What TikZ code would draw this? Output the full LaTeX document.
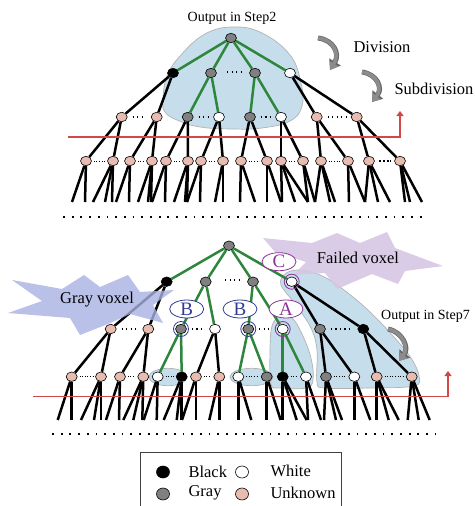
\documentclass[tikz,border=0pt]{standalone}
\usepackage{fontspec}
\setmainfont{Liberation Serif}
\usetikzlibrary{shapes.geometric,arrows.meta}
\pgfdeclarelayer{blobs}
\pgfdeclarelayer{edges}
\pgfdeclarelayer{clouds}
\pgfsetlayers{blobs,edges,clouds,main}
\definecolor{unk}{RGB}{232,188,176}
\definecolor{gnode}{RGB}{128,128,128}
\definecolor{egreen}{RGB}{46,134,60}
\definecolor{blobc}{RGB}{198,222,236}
\definecolor{redl}{RGB}{208,72,72}
\definecolor{grayvox}{RGB}{168,178,226}
\definecolor{failvox}{RGB}{214,198,228}
\definecolor{ringblue}{RGB}{50,60,150}
\definecolor{ringpurp}{RGB}{140,50,150}
\definecolor{arrgray}{RGB}{140,140,140}
\tikzset{
  vtx/.style={ellipse, draw=black, line width=0.6pt, minimum width=11pt, minimum height=9.5pt, inner sep=0pt},
  ebk/.style={line width=2.5pt, black},
  egr/.style={line width=2.5pt, egreen},
  pairdots/.style={line width=0.8pt, dash pattern=on 0.8pt off 1.8pt},
  tridots/.style={line width=1.2pt, dash pattern=on 1.2pt off 3.3pt},
  rowdots/.style={line width=1.8pt, dash pattern=on 1.8pt off 6.9pt},
  blob/.style={fill=blobc, draw=black!30, line width=0.7pt},
  redline/.style={redl, line width=1.5pt, -{Triangle[width=7pt,length=5pt]}},
  lbl/.style={ellipse, fill=white, line width=0.8pt, minimum width=34pt, minimum height=18pt, inner sep=0pt, font=\fontsize{19}{19}\selectfont},
  ring/.style={circle, line width=0.8pt, minimum size=15pt, inner sep=0pt},
  bigtxt/.style={font=\fontsize{16.5}{18}\selectfont},
  smalltxt/.style={font=\fontsize{14}{16}\selectfont},
  legv/.style={ellipse, draw=black, line width=0.6pt, minimum width=13pt, minimum height=12pt, inner sep=0pt},
  arrout/.style={line width=5pt, black!60, -{Triangle[width=13pt,length=9.5pt]}},
  arrin/.style={line width=3.6pt, arrgray, -{Triangle[width=10pt,length=7.5pt]}},
  cloudgray/.style={fill=grayvox, fill opacity=0.8, draw=none},
  cloudfail/.style={fill=failvox, fill opacity=0.9, draw=none}
}
\begin{document}
\begin{tikzpicture}[x=1pt,y=-1pt]
\useasboundingbox (0,0) rectangle (474,506);

% ================= TOP TREE =================
\node[vtx, fill=gnode] (tr) at (231,38) {};
\node[vtx, fill=black] (t1a) at (173,73) {};
\node[vtx, fill=gnode] (t1b) at (211,73) {};
\node[vtx, fill=gnode] (t1c) at (255,73) {};
\node[vtx, fill=white] (t1d) at (290,73) {};
\foreach \i/\x/\c in {1/121.7/unk, 2/156.7/unk, 3/187.7/gnode, 4/219/white, 5/250/gnode, 6/281/white, 7/316.7/unk, 8/356.7/unk}
  \node[vtx, fill=\c] (t2-\i) at (\x,117) {};
\foreach \i/\x in {1/86, 2/113, 3/130, 4/152, 5/166, 6/188, 7/201, 8/223, 9/241, 10/267, 11/281, 12/303, 13/321, 14/348, 15/369, 16/400}
  \node[vtx, fill=unk] (t3-\i) at (\x,161) {};

\begin{pgfonlayer}{blobs}
  \draw[blob] plot[smooth cycle, tension=0.7] coordinates {(163,100) (167,76) (181,55) (205,34) (233,27) (262,33) (290,55) (301,83) (302,106) (290,121) (262,128) (233,129) (200,127) (177,120) (165,112)};
\end{pgfonlayer}

\begin{pgfonlayer}{edges}
  \foreach \n in {t1a,t1b,t1c,t1d} \draw[egr] (tr) -- (\n);
  \draw[ebk] (t1a) -- (t2-1); \draw[ebk] (t1a) -- (t2-2);
  \draw[egr] (t1b) -- (t2-3); \draw[egr] (t1b) -- (t2-4);
  \draw[egr] (t1c) -- (t2-5); \draw[egr] (t1c) -- (t2-6);
  \draw[ebk] (t1d) -- (t2-7); \draw[ebk] (t1d) -- (t2-8);
  \foreach \i [evaluate=\i as \a using int(2*\i-1), evaluate=\i as \b using int(2*\i)] in {1,...,8} {
    \draw[ebk] (t2-\i) -- (t3-\a);
    \draw[ebk] (t2-\i) -- (t3-\b);
  }
  \foreach \i/\x/\offs in {1/86/{-14,-1}, 2/113/{-20,-8,-1}, 3/130/{-14,-1}, 4/152/{-14,-4,-1}, 5/166/{-14,-1}, 6/188/{-14,-3,-1}, 7/201/{-14,-1}, 8/223/{-8,0},
                           9/241/{-1,14}, 10/267/{0,14}, 11/281/{1,14,27}, 12/303/{5,12}, 13/321/{-6,9,14}, 14/348/{1,17}, 15/369/{-4,9,21}, 16/400/{5,10,22}} {
    \foreach \o [count=\k] in \offs {
      \coordinate (tl-\i-\k) at (\x+\o,202);
      \draw[ebk] (t3-\i) -- (tl-\i-\k);
    }
  }
\end{pgfonlayer}

% dots between siblings (top)
\coordinate (td0a) at (227,72); \coordinate (td0b) at (241,72);
\draw[tridots] (td0a) -- (td0b);
\foreach \a/\b in {1/2,3/4,5/6,7/8} \draw[tridots, shorten >=5pt, shorten <=5pt] (t2-\a) -- (t2-\b);
\foreach \a/\b in {1/2,3/4,5/6,7/8,9/10,11/12,13/14} \draw[pairdots, shorten >=2pt, shorten <=2pt] (t3-\a) -- (t3-\b);
\draw[line width=2pt, dash pattern=on 2pt off 1.6pt, shorten >=3.5pt, shorten <=4.5pt] (t3-15) -- (t3-16);
\coordinate (trow1) at (63,217); \coordinate (trow2) at (426,217);
\draw[rowdots] (trow1) -- (trow2);

% red line top
\coordinate (tra) at (68,137); \coordinate (trb) at (400,137); \coordinate (trc) at (400,111);
\draw[redline] (tra) -- (trb) -- (trc);

\node[smalltxt] (out2) at (232,18) {Output in Step2};
\node[bigtxt, anchor=west] (divt) at (350,47) {Division};
\node[bigtxt, anchor=west] (subt) at (391,89) {Subdivision};
% curved arrows
\coordinate (da1) at (318,38); \coordinate (da2) at (330,70);
\draw[arrout] (da1) .. controls (334,40) and (340,54) .. (da2);
\draw[arrin] (da1) .. controls (334,40) and (340,54) .. (da2);
\coordinate (sa1) at (362,72); \coordinate (sa2) at (372,102);
\draw[arrout] (sa1) .. controls (377,74) and (383,88) .. (sa2);
\draw[arrin] (sa1) .. controls (377,74) and (383,88) .. (sa2);

% ================= BOTTOM TREE =================
\node[vtx, fill=gnode] (br) at (229,245.7) {};
\node[vtx, fill=black] (b1a) at (166.7,281.7) {};
\node[vtx, fill=gnode] (b1b) at (205.7,281.7) {};
\node[vtx, fill=gnode] (b1c) at (253,281.7) {};
\node[vtx, fill=white] (b1d) at (291.7,281.7) {};
\foreach \i/\x/\c in {1/110.7/unk, 2/148.3/unk, 3/181/gnode, 4/215/white, 5/248.3/gnode, 6/282.7/white, 7/320/gnode, 8/363.3/black}
  \node[vtx, fill=\c] (b2-\i) at (\x,329) {};
\foreach \i/\x/\c in {1/71.7/unk, 2/101/unk, 3/120/unk, 4/143.3/unk, 5/157.7/white, 6/181.7/black, 7/196/unk, 8/219.3/unk,
                      9/238.3/white, 10/266.7/gnode, 11/282.7/black, 12/306/white, 13/326/gnode, 14/354.3/white, 15/376.7/unk, 16/411.7/unk}
  \node[vtx, fill=\c] (b3-\i) at (\x,376.7) {};

\begin{pgfonlayer}{blobs}
  \draw[blob] plot[smooth cycle, tension=0.6] coordinates {(281,285) (285,274) (298,270) (318,274) (340,287) (368,310) (393,336) (411,358) (419,376) (414,386) (370,388) (325,388) (317,382) (317,350) (311,328) (296,305)};
  \draw[blob] plot[smooth cycle, tension=0.6] coordinates {(271,384) (270,350) (272,326) (280,316) (292,318) (302,334) (311,358) (313,380) (306,388) (280,388)};
  \draw[blob] (168,377) ellipse [x radius=19, y radius=8.7];
  \draw[blob] (251.5,377) ellipse [x radius=21.5, y radius=8.7];
\end{pgfonlayer}

\begin{pgfonlayer}{edges}
  \foreach \n in {b1a,b1b,b1c,b1d} \draw[egr] (br) -- (\n);
  \draw[ebk] (b1a) -- (b2-1); \draw[ebk] (b1a) -- (b2-2);
  \draw[egr] (b1b) -- (b2-3); \draw[egr] (b1b) -- (b2-4);
  \draw[egr] (b1c) -- (b2-5); \draw[egr] (b1c) -- (b2-6);
  \draw[ebk] (b1d) -- (b2-7); \draw[ebk] (b1d) -- (b2-8);
  \draw[ebk] (b2-1) -- (b3-1); \draw[ebk] (b2-1) -- (b3-2);
  \draw[ebk] (b2-2) -- (b3-3); \draw[ebk] (b2-2) -- (b3-4);
  \draw[egr] (b2-3) -- (b3-5); \draw[egr] (b2-3) -- (b3-6);
  \draw[ebk] (b2-4) -- (b3-7); \draw[ebk] (b2-4) -- (b3-8);
  \draw[egr] (b2-5) -- (b3-9); \draw[egr] (b2-5) -- (b3-10);
  \draw[egr] (b2-6) -- (b3-11); \draw[egr] (b2-6) -- (b3-12);
  \draw[ebk] (b2-7) -- (b3-13); \draw[ebk] (b2-7) -- (b3-14);
  \draw[ebk] (b2-8) -- (b3-15); \draw[ebk] (b2-8) -- (b3-16);
  \foreach \i/\x/\offs in {1/71.7/{-14,0}, 2/101/{-20,-7,0}, 3/120/{-14,-1}, 4/143.3/{-20,-10,-1}, 5/157.7/{-14,-1}, 6/181.7/{-18,-5,0}, 7/196/{-14,0}, 8/219.3/{-10,0},
                           9/238.3/{0,13}, 10/266.7/{0,14}, 11/282.7/{0,14,24}, 12/306/{2,15}, 13/326/{-2,10,16}, 14/354.3/{0,16}, 15/376.7/{0,12,22}, 16/411.7/{-4,7,18}} {
    \foreach \o [count=\k] in \offs {
      \coordinate (bl-\i-\k) at (\x+\o,420);
      \draw[ebk] (b3-\i) -- (bl-\i-\k);
    }
  }
\end{pgfonlayer}

\begin{pgfonlayer}{clouds}
  \fill[cloudgray] (12,280) -- (62,289) -- (84,275) -- (100,287) -- (128,275) -- (140,292) -- (174,290) -- (153,305) -- (163,323) -- (130,314) -- (108,324) -- (80,335) -- (70,318) -- (8,313) -- (42,301) -- cycle;
  \fill[cloudfail] (263,238) -- (312,243) -- (337,233) -- (360,243) -- (387,232) -- (395,248) -- (443,266) -- (405,271) -- (398,284) -- (372,274) -- (337,289) -- (325,273) -- (293,275) -- (306,262) -- (275,252) -- cycle;
\end{pgfonlayer}

% dots between siblings (bottom)
\coordinate (bd0a) at (225,280); \coordinate (bd0b) at (239,280);
\draw[tridots] (bd0a) -- (bd0b);
\foreach \a/\b in {1/2,3/4,5/6,7/8} \draw[tridots, shorten >=5pt, shorten <=5pt] (b2-\a) -- (b2-\b);
\foreach \a/\b in {1/2,3/4,5/6,7/8,9/10,11/12,13/14,15/16} \draw[pairdots, shorten >=2pt, shorten <=2pt] (b3-\a) -- (b3-\b);
\coordinate (brow1) at (52,434); \coordinate (brow2) at (436,434);
\draw[rowdots] (brow1) -- (brow2);

% red line bottom
\coordinate (bra) at (33,396.7); \coordinate (brb) at (448,396.7); \coordinate (brc) at (448,371);
\draw[redline] (bra) -- (brb) -- (brc);

% rings
\node[ring, draw=ringblue] (rg1) at (b2-3) {};
\node[ring, draw=ringblue] (rg2) at (b2-5) {};
\node[ring, draw=ringpurp] (rg3) at (b2-6) {};
\node[ring, draw=ringpurp] (rg4) at (b1d) {};

% labels
\node[lbl, draw=ringblue, text=ringblue] (lB1) at (186.7,309) {B};
\node[lbl, draw=ringblue, text=ringblue] (lB2) at (240,309) {B};
\node[lbl, draw=ringpurp, text=ringpurp] (lA) at (286,309) {A};
\node[lbl, draw=ringpurp, text=ringpurp] (lC) at (279,261.7) {C};

\node[bigtxt] (gvt) at (97,300) {Gray voxel};
\node[bigtxt] (fvt) at (358,258) {Failed voxel};
\node[smalltxt] (out7) at (425.5,316) {Output in Step7};
\coordinate (oa1) at (388,329); \coordinate (oa2) at (399,361);
\draw[arrout] (oa1) .. controls (403,332) and (409,348) .. (oa2);
\draw[arrin] (oa1) .. controls (403,332) and (409,348) .. (oa2);

% ================= LEGEND =================
\coordinate (lg1) at (140,507); \coordinate (lg2) at (140,452); \coordinate (lg3) at (341,452); \coordinate (lg4) at (341,507);
\draw[line width=1pt, black!75] (lg1) -- (lg2) -- (lg3) -- (lg4);
\node[legv, fill=black] (kb) at (163,472) {};
\node[bigtxt, anchor=west] (kbt) at (185,472) {Black};
\node[legv, fill=white] (kw) at (242,472) {};
\node[bigtxt, anchor=west] (kwt) at (267,471) {White};
\node[legv, fill=gnode] (kg) at (163,494) {};
\node[bigtxt, anchor=west] (kgt) at (185,493) {Gray};
\node[legv, fill=unk] (ku) at (242,494) {};
\node[bigtxt, anchor=west] (kut) at (267,493) {Unknown};
\end{tikzpicture}
\end{document}
